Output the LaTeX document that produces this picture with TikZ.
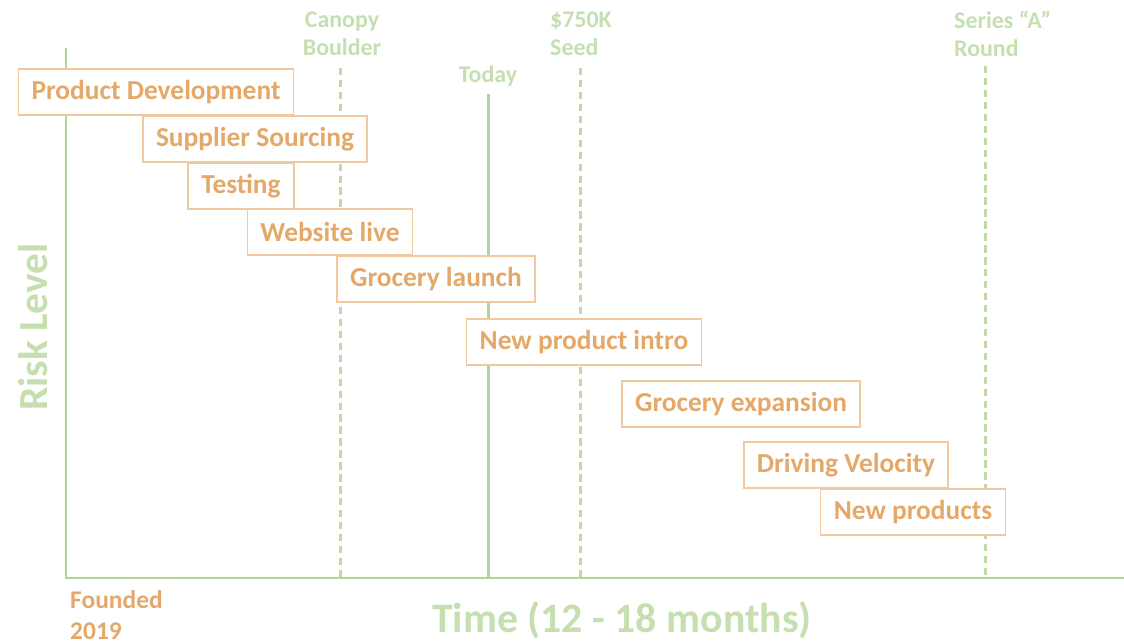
\documentclass[tikz,border=0pt]{standalone}
\usepackage{fontspec}
\setmainfont{Carlito}
\usepackage{tikz}
\usetikzlibrary{positioning}
\definecolor{axisgreen}{RGB}{178,212,150}
\definecolor{labelgreen}{RGB}{197,223,176}
\definecolor{steporange}{RGB}{228,168,105}
\definecolor{boxorange}{RGB}{242,200,160}
\begin{document}
\begin{tikzpicture}[x=0.02cm, y=-0.02cm]

\tikzstyle{mystep} = [draw=boxorange, line width=0.9pt, fill=white, text=steporange,
font=\fontsize{15.6}{16}\bfseries, minimum height=0.93cm, inner xsep=7.5pt]
\tikzstyle{milestone} = [text=labelgreen, font=\fontsize{13.6}{16}\bfseries, align=left]
\tikzstyle{axis} = [draw=axisgreen, line width=1.7pt]
\tikzstyle{mark line} = [draw=axisgreen!85, line width=1.7pt, dash pattern=on 4.2pt off 2.6pt]

\useasboundingbox (0,0) rectangle (1124,644);

\coordinate (origin) at (66,578);
\coordinate (ytop) at (66,48);
\coordinate (xend) at (1124,578);

%\coordinate (canopytop) at (340,70);
\coordinate (canopytop) at (340,68);
\coordinate (canopybot) at (340,578);
\coordinate (todaytop) at (488,94);
\coordinate (todaybot) at (488,578);
\coordinate (seedtop) at (580,68);
\coordinate (seedbot) at (580,578);
\coordinate (seriestop) at (985,66);
\coordinate (seriesbot) at (985,578);

\draw [mark line] (canopytop) -- (canopybot);
\draw [mark line] (seedtop) -- (seedbot);
\draw [mark line] (seriestop) -- (seriesbot);
\draw [axis] (todaytop) -- (todaybot);

\draw [axis] (ytop) -- (origin) -- (xend);

\node[milestone, align=center] (canopy) at (342,34) {Canopy\\Boulder};
\node[milestone, above=1pt of todaytop] (today) {Today};
\node[milestone, anchor=west] (seed) at (544,34) {\$750K\\Seed};
\node[milestone, anchor=west] (series) at (948,34) {Series “A”\\Round};

\node[mystep] (proddev) at (156,92) {Product Development};
\node[mystep] (supplier) at (255,139) {Supplier Sourcing};
\node[mystep] (testing) at (241,186) {Testing};
\node[mystep] (website) at (330,232) {Website live};
\node[mystep] (grocery) at (436,279) {Grocery launch};
\node[mystep] (newintro) at (584,342) {New product intro};
\node[mystep] (expansion) at (741,404) {Grocery expansion};
\node[mystep] (velocity) at (846,465) {Driving Velocity};
\node[mystep] (newprod) at (913,512) {New products};

\node[text=steporange, font=\fontsize{14.5}{18}\bfseries, align=left, anchor=north west] (founded) at (64,584) {Founded\\2019};
\node[text=labelgreen, font=\fontsize{23.8}{26}\bfseries] (xlabel) at (622,620) {Time (12 - 18 months)};
\node[text=labelgreen, font=\fontsize{23.5}{26}\bfseries, rotate=90] (ylabel) at (33,327) {Risk Level};

\end{tikzpicture}
\end{document}
